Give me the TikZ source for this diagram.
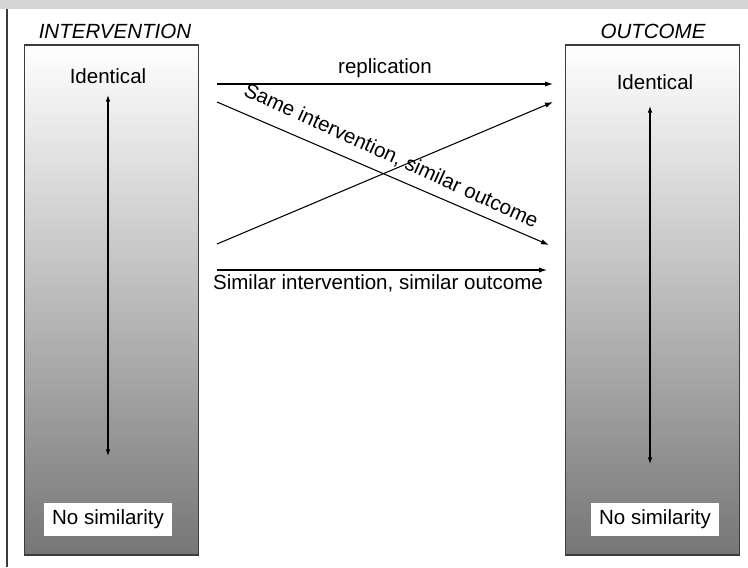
\documentclass[tikz,border=0pt]{standalone}
\usepackage{fontspec}
\setmainfont{Liberation Sans}
\usetikzlibrary{arrows.meta}
\definecolor{bandgray}{RGB}{212,212,212}
\definecolor{framegray}{RGB}{60,60,60}
\definecolor{shadebottom}{RGB}{118,118,118}
\begin{document}
\begin{tikzpicture}[x=0.75pt,y=-0.75pt,
  every node/.style={font=\fontsize{15.4}{17}\selectfont, inner sep=0pt},
  scalebox/.style={draw=framegray, line width=0.9pt, top color=white, bottom color=shadebottom,
    minimum width=130.5pt, minimum height=382.5pt},
  heading/.style={font=\fontsize{15.4}{17}\selectfont\itshape},
  whitelabel/.style={fill=white, minimum width=96pt, minimum height=24.75pt},
  link/.style={line width=0.8pt, -{Latex[length=6pt,width=4pt]}},
  scalearrow/.style={line width=0.8pt, {Latex[length=5pt,width=3.5pt]}-{Latex[length=5pt,width=3.5pt]}}]
\useasboundingbox (0,0) rectangle (748,567);
% top band and left rule
\fill[bandgray] (0,0) rectangle (748,9);
\draw[framegray, line width=1.1pt] (7,9) -- (7,567);

% the two scales
\node[scalebox] (lbox) at (111.5,300) {};
\node[scalebox] (rbox) at (652.5,300) {};
\node[heading] (lhead) at (115,31) {INTERVENTION};
\node[heading] (rhead) at (653,31) {OUTCOME};

\node (lid) at (108,76) {Identical};
\node (rid) at (655,82) {Identical};
\node[whitelabel] (lno) at (108,519.5) {No similarity};
\node[whitelabel] (rno) at (655,519.5) {No similarity};

\coordinate (lt) at (108,95);
\coordinate (lb) at (108,456);
\coordinate (rt) at (650,106);
\coordinate (rb) at (650,464);
\draw[scalearrow] (lt) -- (lb);
\draw[scalearrow] (rt) -- (rb);

% links between intervention and outcome
\coordinate (a1) at (217,84);   \coordinate (b1) at (553,84);
\coordinate (a2) at (217,102);  \coordinate (b2) at (549,245);
\coordinate (a3) at (217,244);  \coordinate (b3) at (553,102);
\coordinate (a4) at (217,270);  \coordinate (b4) at (547,270);

\draw[link] (a1) -- node[above=4pt] (rep) {replication} (b1);
\draw[link] (a2) -- (b2);
\node[rotate=-24.5] (same) at (391,156) {Same intervention, similar outcome};
\draw[link] (a3) -- (b3);
\draw[link] (a4) -- node[below=3pt, xshift=-3pt] (sim) {Similar intervention, similar outcome} (b4);
\end{tikzpicture}
\end{document}
